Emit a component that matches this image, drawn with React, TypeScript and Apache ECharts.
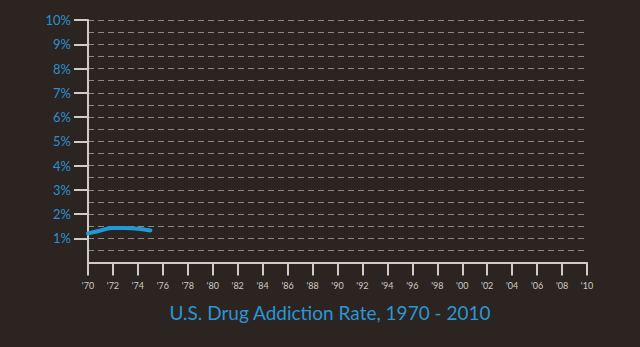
import React, { useEffect, useRef } from "react";
import * as echarts from "echarts";

const years = [1970, 1971, 1972, 1973, 1974, 1975];
const rates = [1.2, 1.32, 1.42, 1.42, 1.39, 1.32];
const yTickValues = [1, 2, 3, 4, 5, 6, 7, 8, 9, 10];
const titleText = "U.S. Drug Addiction Rate, 1970 - 2010";

export default function App() {
  const ref = useRef<HTMLDivElement>(null);
  useEffect(() => {
    document.body.style.margin = "0";
    document.body.style.background = "#2b2421";
    if (!ref.current) return;
    const chart = echarts.init(ref.current, null, { renderer: "svg" });
    const gridColor = "#8c8781";
    const dashed = { color: gridColor, type: [6, 4] as number[], width: 1.2 };
    chart.setOption({
      animation: false,
      backgroundColor: "#2b2421",
      grid: { left: 88, right: 53, top: 20, bottom: 84.5 },
      xAxis: {
        type: "value",
        min: 1970,
        max: 2010,
        interval: 2,
        axisLine: { show: true, lineStyle: { color: "#cfcbc5", width: 2 } },
        axisTick: { show: true, length: 13, lineStyle: { color: "#cfcbc5", width: 2 } },
        axisLabel: {
          color: "#cfcbc5",
          fontSize: 9,
          fontFamily: "Lato",
          margin: 18,
          formatter: (v: number) => "'" + String(v).slice(2),
        },
        splitLine: { show: false },
      },
      yAxis: {
        type: "value",
        min: 0,
        max: 10,
        interval: 1,
        axisLine: { show: true, lineStyle: { color: "#cfcbc5", width: 2 } },
        axisTick: {
          show: true,
          length: 14,
          customValues: yTickValues,
          lineStyle: { color: "#cfcbc5", width: 2 },
        },
        axisLabel: {
          color: "#2a90d2",
          fontSize: 13,
          fontFamily: "Lato",
          margin: 17,
          customValues: yTickValues,
          formatter: (v: number) => v + "%",
        },
        splitLine: { show: true, lineStyle: dashed },
        minorTick: { show: false, splitNumber: 2 },
        minorSplitLine: { show: true, lineStyle: dashed },
      },
      series: [
        {
          type: "line",
          data: years.map((y, i) => [y, rates[i]]),
          smooth: true,
          showSymbol: false,
          lineStyle: { color: "#1d9ad8", width: 4, cap: "round" },
        },
      ],
      graphic: [
        {
          type: "text",
          x: 330,
          y: 312,
          style: {
            text: titleText,
            fill: "#2a96d6",
            fontSize: 19,
            fontFamily: "Lato",
            textAlign: "center",
            textVerticalAlign: "middle",
          },
        },
      ],
    });
    return () => chart.dispose();
  }, []);
  return <div ref={ref} style={{ width: 640, height: 347 }} />;
}
